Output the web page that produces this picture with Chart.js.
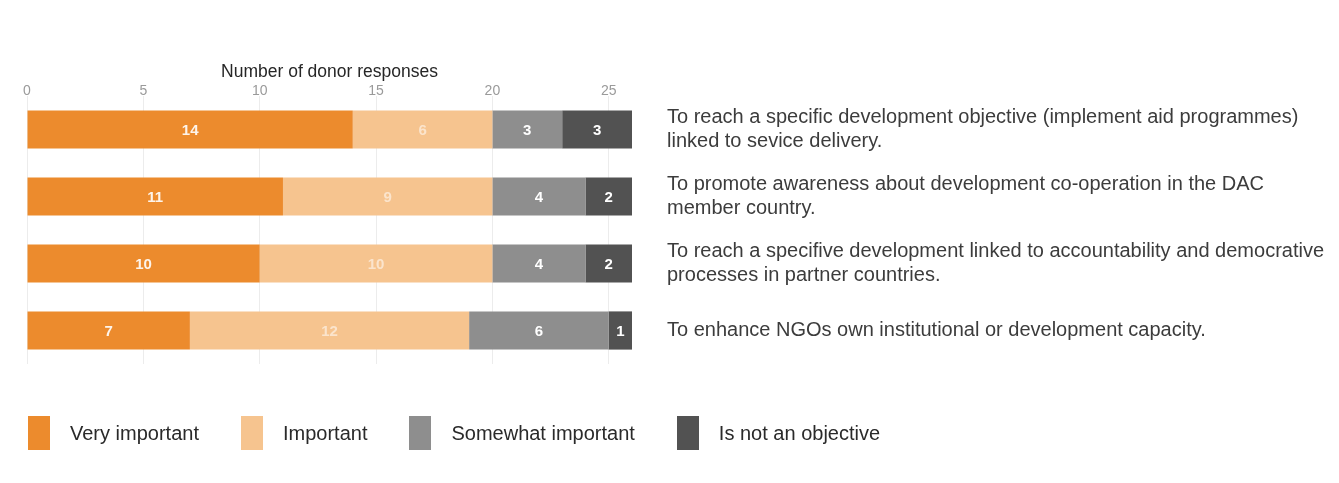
<!DOCTYPE html>
<html>
<head>
<meta charset="utf-8">
<script src="https://cdn.jsdelivr.net/npm/chart.js@4/dist/chart.umd.min.js"></script>
<style>
  html, body { margin: 0; padding: 0; background: #ffffff; }
  #wrap { position: relative; width: 1339px; height: 483px; }
  #legend {
    position: absolute; left: 28px; top: 416px;
    display: flex; align-items: center; gap: 42px;
    font-family: 'Liberation Sans', Helvetica, Arial, sans-serif;
    font-size: 20px; color: #2a2a2a;
  }
  #legend .item { display: flex; align-items: center; gap: 20px; }
  #legend .box { width: 22px; height: 34px; }
</style>
</head>
<body>
<div id="wrap">
  <canvas id="chart" width="1339" height="483"></canvas>
  <div id="legend"></div>
</div>
<script>
// ------------------------------------------------------------
// Objectives of donor support to NGOs — stacked horizontal bars
// ------------------------------------------------------------

const categories = [
  ['To reach a specific development objective (implement aid programmes)', 'linked to sevice delivery.'],
  ['To promote awareness about development co-operation in the DAC', 'member country.'],
  ['To reach a specifive development linked to accountability and democrative', 'processes in partner countries.'],
  'To enhance NGOs own institutional or development capacity.'
];

const seriesNames = ['Very important', 'Important', 'Somewhat important', 'Is not an objective'];
const veryImportant = [14, 11, 10, 7];
const important = [6, 9, 10, 12];
const somewhatImportant = [3, 4, 4, 6];
const notAnObjective = [3, 2, 2, 1];

const seriesColors = ['#ec8b2d', '#f6c48f', '#8e8e8e', '#525252'];
const valueColors = ['rgba(255,255,255,0.9)', 'rgba(255,255,255,0.55)', '#ffffff', '#ffffff'];

const xTickValues = [0, 5, 10, 15, 20, 25];
const xMax = 26;

const FONT = "'Liberation Sans', Helvetica, Arial, sans-serif";

// numbers written in the middle of every bar segment
const segmentValues = {
  id: 'segmentValues',
  afterDatasetsDraw(chart) {
    const ctx = chart.ctx;
    ctx.save();
    ctx.font = `bold 15px ${FONT}`;
    ctx.textAlign = 'center';
    ctx.textBaseline = 'middle';
    chart.data.datasets.forEach((ds, i) => {
      const meta = chart.getDatasetMeta(i);
      meta.data.forEach((bar, j) => {
        const v = ds.data[j];
        if (!v) return;
        const { x, y } = bar.getCenterPoint();
        ctx.fillStyle = valueColors[i];
        ctx.fillText(String(v), x, y + 1);
      });
    });
    ctx.restore();
  }
};

const seriesData = [veryImportant, important, somewhatImportant, notAnObjective];

const chart = new Chart(document.getElementById('chart').getContext('2d'), {
  type: 'bar',
  data: {
    labels: categories,
    datasets: seriesNames.map((name, i) => ({
      label: name,
      data: seriesData[i],
      backgroundColor: seriesColors[i],
      borderWidth: 0,
      barPercentage: 1,
      categoryPercentage: 0.57,
    }))
  },
  options: {
    indexAxis: 'y',
    responsive: false,
    animation: false,
    layout: { padding: { left: 27, right: 0, top: 0, bottom: 119 } },
    scales: {
      x: {
        position: 'top',
        stacked: true,
        min: 0,
        max: xMax,
        afterFit: (scale) => { scale.height = 96; },
        afterBuildTicks: (scale) => { scale.ticks = xTickValues.map(v => ({ value: v })); },
        grid: { color: '#ececec', drawTicks: false },
        border: { display: false },
        ticks: {
          padding: -4,
          color: '#9a9a9a',
          font: { family: FONT, size: 14 },
        },
        title: {
          display: true,
          text: 'Number of donor responses',
          color: '#262626',
          font: { family: FONT, size: 17.5 },
          padding: { top: 62, bottom: 0 },
        },
      },
      y: {
        position: 'right',
        stacked: true,
        afterFit: (scale) => { scale.width = 707; },
        grid: { display: false },
        border: { display: false },
        ticks: {
          crossAlign: 'near',
          padding: 27,
          color: '#3c3c3c',
          font: { family: FONT, size: 20, lineHeight: 1.2 },
        },
      },
    },
    plugins: {
      legend: { display: false },
      tooltip: { enabled: false },
    },
  },
  plugins: [segmentValues],
});

// legend built from the chart's own datasets
const legendEl = document.getElementById('legend');
chart.data.datasets.forEach(ds => {
  const item = document.createElement('div');
  item.className = 'item';
  const box = document.createElement('span');
  box.className = 'box';
  box.style.background = ds.backgroundColor;
  const txt = document.createElement('span');
  txt.textContent = ds.label;
  item.appendChild(box);
  item.appendChild(txt);
  legendEl.appendChild(item);
});
</script>
</body>
</html>
